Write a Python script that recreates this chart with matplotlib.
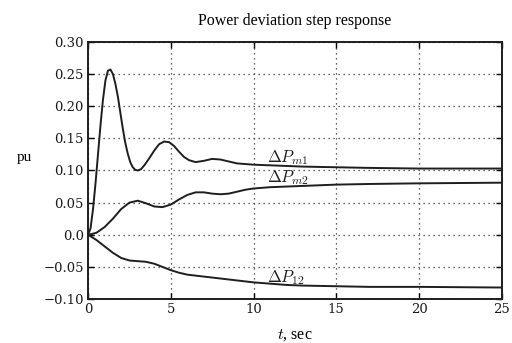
import matplotlib
matplotlib.use("Agg")
import matplotlib.pyplot as plt

t_m1 = [0, 0.15, 0.3, 0.45, 0.6, 0.75, 0.9, 1.05, 1.2, 1.35, 1.5, 1.65, 1.8, 1.95, 2.1, 2.25, 2.4, 2.55, 2.7, 2.85, 3.0, 3.2, 3.4, 3.7, 4.0, 4.3, 4.6, 4.9, 5.2, 5.5, 5.8, 6.1, 6.5, 7.0, 7.5, 8.0, 8.5, 9.0, 9.5, 10, 11, 12, 13, 15, 17, 20, 25]
p_m1 = [0, 0.01, 0.04, 0.08, 0.125, 0.17, 0.21, 0.24, 0.255, 0.257, 0.250, 0.235, 0.215, 0.19, 0.165, 0.143, 0.126, 0.113, 0.105, 0.101, 0.100, 0.102, 0.108, 0.119, 0.131, 0.141, 0.145, 0.144, 0.138, 0.129, 0.121, 0.116, 0.113, 0.115, 0.118, 0.117, 0.114, 0.111, 0.110, 0.109, 0.108, 0.107, 0.106, 0.105, 0.104, 0.103, 0.103]

t_m2 = [0, 0.5, 1.0, 1.5, 2.0, 2.5, 3.0, 3.5, 4.0, 4.5, 5.0, 5.5, 6.0, 6.5, 7.0, 7.5, 8.0, 8.5, 9.0, 9.5, 10, 11, 12, 13, 15, 17, 20, 25]
p_m2 = [0, 0.003, 0.012, 0.025, 0.040, 0.050, 0.053, 0.049, 0.044, 0.043, 0.047, 0.055, 0.062, 0.066, 0.066, 0.064, 0.063, 0.064, 0.067, 0.070, 0.072, 0.074, 0.075, 0.076, 0.078, 0.079, 0.080, 0.081]

t_12 = [0, 0.5, 1.0, 1.5, 2.0, 2.5, 3.0, 3.5, 4.0, 4.5, 5.0, 5.5, 6.0, 7.0, 8.0, 9.0, 10, 11, 12, 13, 15, 17, 20, 25]
p_12 = [0, -0.008, -0.018, -0.028, -0.036, -0.040, -0.041, -0.042, -0.045, -0.050, -0.055, -0.059, -0.062, -0.065, -0.068, -0.071, -0.074, -0.076, -0.078, -0.079, -0.080, -0.081, -0.081, -0.082]

xticks = [0, 5, 10, 15, 20, 25]
yticks = [-0.10, -0.05, 0.0, 0.05, 0.10, 0.15, 0.20, 0.25, 0.30]
ytick_labels = ["\u22120.10", "\u22120.05", "0.0", "0.05", "0.10", "0.15", "0.20", "0.25", "0.30"]

plt.rcParams['font.family'] = ['DejaVu Serif']
plt.rcParams['mathtext.fontset'] = 'cm'

fig = plt.figure(figsize=(5.12, 3.43), dpi=100)
ax = fig.add_axes([0.172, 0.128, 0.808, 0.75])

lc = '#1e1e1e'
ax.plot(t_m1, p_m1, color=lc, lw=1.4)
ax.plot(t_m2, p_m2, color=lc, lw=1.4)
ax.plot(t_12, p_12, color=lc, lw=1.4)

ax.set_xlim(0, 25)
ax.set_ylim(-0.10, 0.30)
ax.set_xticks(xticks)
ax.set_yticks(yticks)
ax.set_yticklabels(ytick_labels)
ax.tick_params(direction='in', top=True, right=True, labelsize=9.5, length=4, width=1, pad=3, labelcolor='#1a1a1a')
ax.grid(True, linestyle=(0, (1, 3)), color='#333333', linewidth=0.9)
for s in ax.spines.values():
    s.set_linewidth(1.4)
    s.set_color('#1e1e1e')

ax.text(10.8, 0.113, r'$\Delta P_{m1}$', fontsize=12, color=lc)
ax.text(10.8, 0.082, r'$\Delta P_{m2}$', fontsize=12, color=lc)
ax.text(10.8, -0.073, r'$\Delta P_{12}$', fontsize=12, color=lc)

ax.set_title('Power deviation step response', fontsize=11.5, family='Liberation Serif', pad=12)
ax.set_xlabel(r'$t$, sec', fontsize=11.5, family='Liberation Serif', labelpad=8)
fig.text(0.047, 0.54, 'pu', fontsize=11, family='Liberation Serif', ha='center', va='center')

fig.savefig('out.png', dpi=100)
